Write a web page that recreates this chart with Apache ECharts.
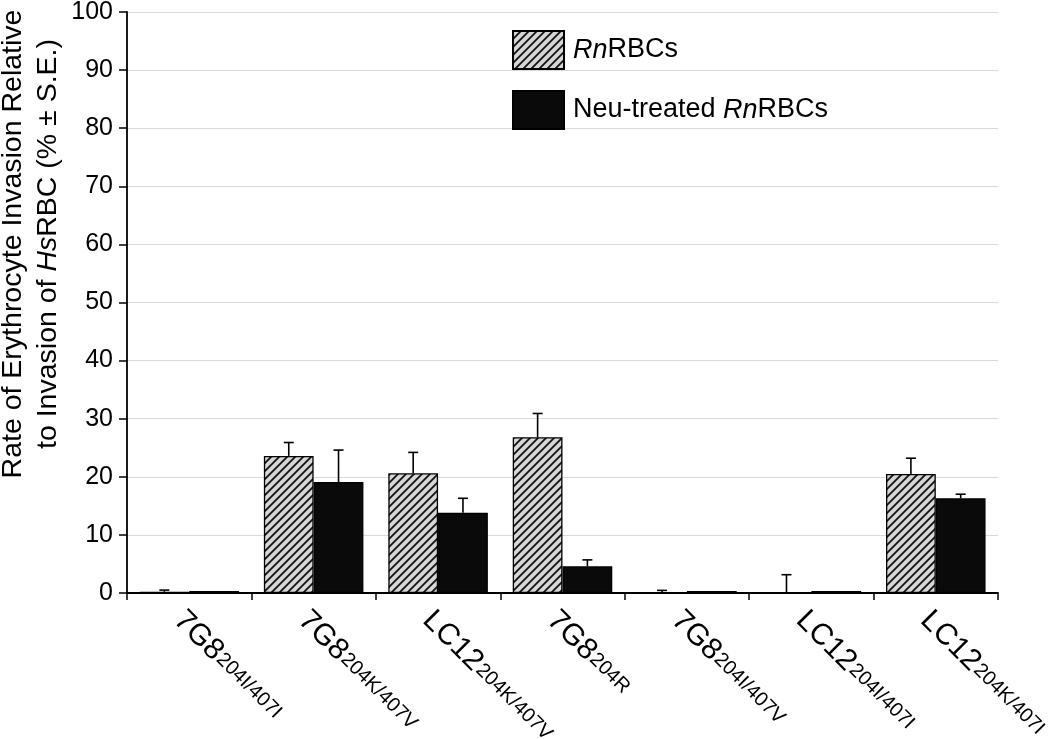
<!DOCTYPE html>
<html>
<head>
<meta charset="utf-8">
<script src="https://cdn.jsdelivr.net/npm/echarts@6/dist/echarts.min.js"></script>
<style>html,body{margin:0;padding:0;background:#fff;overflow:hidden;width:1050px;height:739px}#c{width:1050px;height:739px}</style>
</head>
<body>
<div id="c"></div>
<script>
const categories = ['7G8', '7G8', 'LC12', '7G8', '7G8', 'LC12', 'LC12'];
const subscripts = ['204I/407I', '204K/407V', '204K/407V', '204R', '204I/407V', '204I/407I', '204K/407I'];
const rnValues = [0.2, 23.6, 20.6, 26.8, 0.15, 0.05, 20.5];
const rnErrors = [0.3, 2.3, 3.6, 4.1, 0.3, 3.1, 2.7];
const neuValues = [0.35, 19.1, 13.8, 4.6, 0.35, 0.35, 16.3];
const neuErrors = [0, 5.5, 2.5, 1.1, 0, 0, 0.7];
const yTicks = [0, 10, 20, 30, 40, 50, 60, 70, 80, 90, 100];

const FONT = '"Liberation Sans", Arial, sans-serif';

// hatch pattern
const pc = document.createElement('canvas');
pc.width = 8; pc.height = 8;
const g = pc.getContext('2d');
g.fillStyle = '#d6d6d6';
g.fillRect(0, 0, 8, 8);
g.strokeStyle = '#111';
g.lineWidth = 1.8;
g.beginPath();
g.moveTo(-1, 9); g.lineTo(9, -1);
g.moveTo(-1, 1); g.lineTo(1, -1);
g.moveTo(7, 9); g.lineTo(9, 7);
g.stroke();
const hatch = { image: pc, repeat: 'repeat' };

const labels = categories.map((c, i) => c + '{s|' + subscripts[i] + '}');

function errorSeries(values, errors, side) {
  return {
    type: 'custom',
    z: 5,
    silent: true,
    encode: { x: 0, y: [1, 3] },
    data: values.map((v, i) => [i, v, errors[i], v + errors[i]]),
    renderItem: function (params, api) {
      const idx = api.value(0), v = api.value(1), e = api.value(2);
      if (!(e > 0)) return null;
      const bw = api.size([1, 0])[0] * 0.8 / 2;
      const base = api.coord([idx, v]);
      const top = api.coord([idx, v + e]);
      const x = base[0] + side * bw / 2;
      const cap = 5;
      return {
        type: 'group',
        children: [
          { type: 'line', shape: { x1: x, y1: base[1], x2: x, y2: top[1] }, style: { stroke: '#000', lineWidth: 1.6 } },
          { type: 'line', shape: { x1: x - cap, y1: top[1], x2: x + cap, y2: top[1] }, style: { stroke: '#000', lineWidth: 1.6 } }
        ]
      };
    }
  };
}

const chart = echarts.init(document.getElementById('c'), null, { renderer: 'canvas', width: 1050, height: 739 });
chart.setOption({
  animation: false,
  backgroundColor: '#fff',
  textStyle: { fontFamily: FONT },
  grid: { left: 127, right: 52, top: 12, bottom: 146, containLabel: false, outerBoundsMode: 'none' },
  legend: {
    orient: 'vertical',
    left: 507, top: 25,
    icon: 'rect',
    itemWidth: 51, itemHeight: 38, itemGap: 20,
    data: ['RnRBCs', 'Neu-treated RnRBCs'],
    formatter: function (n) { return n === 'RnRBCs' ? '{i|Rn}RBCs' : 'Neu-treated {i|Rn}RBCs'; },
    textStyle: {
      fontFamily: FONT, fontSize: 27, color: '#000', padding: [0, 0, 0, 4],
      rich: { i: { fontFamily: FONT, fontSize: 27, fontStyle: 'italic', color: '#000' } }
    }
  },
  xAxis: {
    type: 'category',
    data: labels,
    axisLine: { lineStyle: { color: '#000', width: 1.8 } },
    axisTick: { show: true, length: 7, lineStyle: { color: '#000', width: 1.5 } },
    axisLabel: {
      rotate: -45, margin: 12, interval: 0, verticalAlign: 'top',
      fontFamily: FONT, fontSize: 30, color: '#000',
      rich: { s: { fontFamily: FONT, fontSize: 20, color: '#000', verticalAlign: 'bottom', padding: [0, 0, 5, 1] } }
    }
  },
  yAxis: {
    type: 'value', min: 0, max: 100, interval: 10,
    axisLine: { show: true, lineStyle: { color: '#000', width: 1.8 } },
    axisTick: { show: true, length: 8, lineStyle: { color: '#000', width: 1.5 } },
    axisLabel: {
      margin: 14, fontFamily: FONT, fontSize: 25, color: '#000',
      formatter: function (v) { return yTicks.indexOf(v) >= 0 ? String(v) : ''; }
    },
    splitLine: { lineStyle: { color: '#d9d9d9', width: 1.2 } }
  },
  graphic: [{
    type: 'text',
    x: 31, y: 244,
    rotation: Math.PI / 2,
    style: {
      text: 'Rate of Erythrocyte Invasion Relative\nto Invasion of {i|Hs}RBC (% ± S.E.)',
      fontFamily: FONT, fontSize: 28.5, fill: '#000',
      align: 'center', verticalAlign: 'middle', lineHeight: 35,
      rich: { i: { fontFamily: FONT, fontSize: 28.5, fontStyle: 'italic', fill: '#000', lineHeight: 35 } }
    }
  }],
  series: [
    {
      name: 'RnRBCs', type: 'bar', data: rnValues,
      barGap: '0%', barCategoryGap: '20%',
      itemStyle: { color: hatch, borderColor: '#000', borderWidth: 1.3 }
    },
    {
      name: 'Neu-treated RnRBCs', type: 'bar', data: neuValues,
      barGap: '0%', barCategoryGap: '20%',
      itemStyle: { color: '#0a0a0a', borderColor: '#000', borderWidth: 1.3 }
    },
    errorSeries(rnValues, rnErrors, -1),
    errorSeries(neuValues, neuErrors, 1)
  ]
});
</script>
</body>
</html>
